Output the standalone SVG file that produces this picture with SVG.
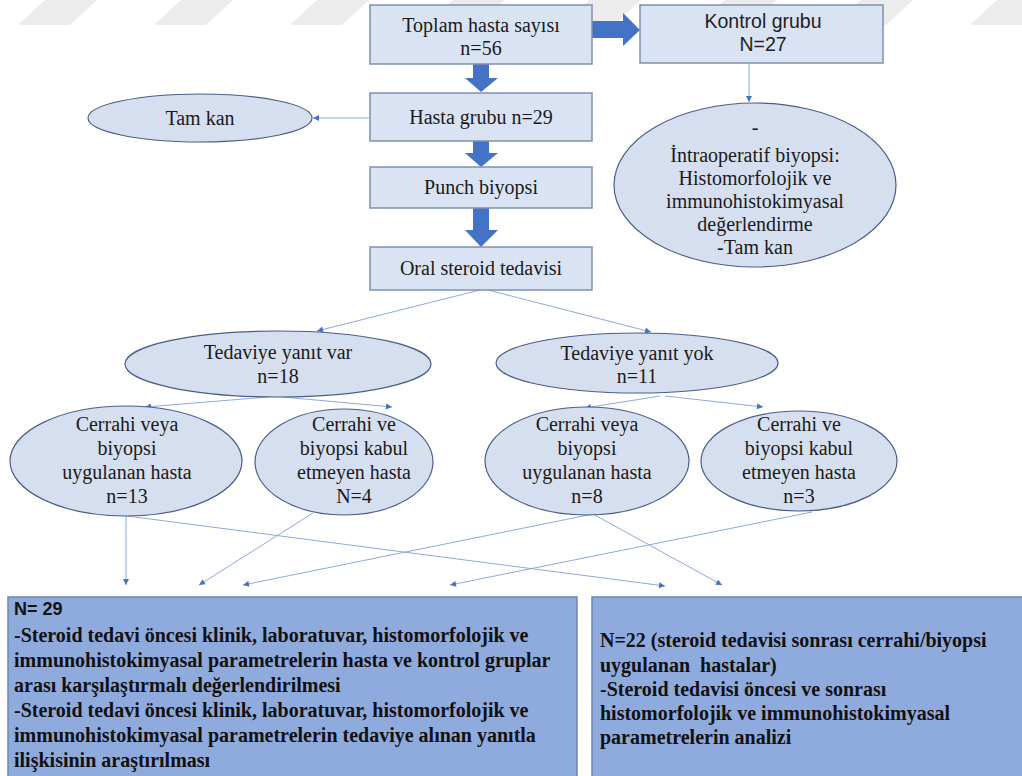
<svg xmlns="http://www.w3.org/2000/svg" width="1022" height="776" viewBox="0 0 1022 776">
<style>
.bg{fill:#ffffff}
.wm{fill:#ececec}
.box{fill:#dae3f3;stroke:#7f90ad;stroke-width:1.5}
.ell{fill:#d6dff0;stroke:#4a5f86;stroke-width:1.2}
.big{fill:#8faadc;stroke:#6f86b0;stroke-width:1.5}
.blk{fill:#4472c4}
.t{font-family:"Liberation Serif","Times New Roman",serif;font-size:20px;fill:#1a1a1a;text-anchor:middle}
.s{font-family:"Liberation Sans",Arial,sans-serif;font-size:19.5px;fill:#222222;text-anchor:middle}
.b{font-family:"Liberation Serif","Times New Roman",serif;font-size:20px;font-weight:bold;fill:#111111}
.bs{font-family:"Liberation Sans",Arial,sans-serif;font-size:18px;font-weight:bold;fill:#111111}
.c{stroke:#8eaadb;stroke-width:1;fill:none;marker-end:url(#ah)}
</style>
<defs>
<marker id="ah" viewBox="0 0 10 10" refX="10" refY="5" markerWidth="7" markerHeight="6" markerUnits="userSpaceOnUse" orient="auto">
<path d="M0,0 L10,5 L0,10 z" fill="#4472c4"/>
</marker>
</defs>
<rect class="bg" x="0" y="0" width="1022" height="776"/>
<g id="watermark">
<polygon class="wm" points="18,25 70,25 97,0 45,0"/>
<polygon class="wm" points="154,25 206,25 233,0 181,0"/>
<polygon class="wm" points="290,25 342,25 369,0 317,0"/>
<polygon class="wm" points="426,25 478,25 505,0 453,0"/>
<polygon class="wm" points="562,25 614,25 641,0 589,0"/>
<polygon class="wm" points="698,25 750,25 777,0 725,0"/>
<polygon class="wm" points="834,25 886,25 913,0 861,0"/>
<polygon class="wm" points="970,25 1022,25 1022,0 997,0"/>
</g>
<g id="connectors">
<polygon class="blk" points="592,21 623,21 623,13 640,30 623,46 623,38 592,38"/>
<polygon class="blk" points="473,64 489,64 489,78 498,78 481,92 465,78 473,78"/>
<polygon class="blk" points="473,141 489,141 489,153 498,153 481,167 465,153 473,153"/>
<polygon class="blk" points="473,208 489,208 489,230 498,230 481,247 465,230 473,230"/>
<line class="c" x1="369" y1="118" x2="313" y2="118"/>
<line class="c" x1="749" y1="64" x2="749" y2="102"/>
<line class="c" x1="480" y1="290" x2="317" y2="331"/>
<line class="c" x1="488" y1="290" x2="651" y2="332"/>
<line class="c" x1="268" y1="397" x2="145" y2="407"/>
<line class="c" x1="283" y1="397" x2="392" y2="407"/>
<line class="c" x1="660" y1="396" x2="585" y2="408"/>
<line class="c" x1="665" y1="396" x2="763" y2="407"/>
<line class="c" x1="126" y1="516" x2="126" y2="585"/>
<line class="c" x1="127" y1="516" x2="665" y2="586"/>
<line class="c" x1="313" y1="513" x2="199" y2="585"/>
<line class="c" x1="593" y1="514" x2="243" y2="585"/>
<line class="c" x1="593" y1="514" x2="722" y2="585"/>
<line class="c" x1="812" y1="512" x2="450" y2="585"/>
</g>
<g id="toplam">
<rect class="box" x="370" y="5" width="222" height="59"/>
<text class="t" x="481" y="32">Toplam hasta sayısı</text>
<text class="t" x="481" y="55">n=56</text>
</g>
<g id="kontrol">
<rect class="box" x="640" y="5" width="243" height="58"/>
<text class="s" x="763" y="28">Kontrol grubu</text>
<text class="s" x="763" y="51">N=27</text>
</g>
<g id="hasta">
<rect class="box" x="370" y="93" width="222" height="48"/>
<text class="t" x="481" y="124">Hasta grubu n=29</text>
</g>
<g id="tamkan">
<ellipse class="ell" cx="200" cy="118" rx="112" ry="24"/>
<text class="t" x="200" y="125">Tam kan</text>
</g>
<g id="intraop">
<ellipse class="ell" cx="755" cy="185" rx="141" ry="82"/>
<text class="t" x="755" y="134">-</text>
<text class="t" x="755" y="162">İntraoperatif biyopsi:</text>
<text class="t" x="755" y="185">Histomorfolojik ve</text>
<text class="t" x="755" y="208">immunohistokimyasal</text>
<text class="t" x="755" y="231">değerlendirme</text>
<text class="t" x="755" y="254">-Tam kan</text>
</g>
<g id="punch">
<rect class="box" x="370" y="167" width="222" height="41"/>
<text class="t" x="481" y="194">Punch biyopsi</text>
</g>
<g id="oral">
<rect class="box" x="370" y="247" width="222" height="43"/>
<text class="t" x="481" y="275">Oral steroid tedavisi</text>
</g>
<g id="yanitvar">
<ellipse class="ell" cx="278" cy="364" rx="153" ry="33"/>
<text class="t" x="278" y="359">Tedaviye yanıt var</text>
<text class="t" x="278" y="383">n=18</text>
</g>
<g id="yanityok">
<ellipse class="ell" cx="637" cy="363" rx="141" ry="30"/>
<text class="t" x="637" y="360">Tedaviye yanıt yok</text>
<text class="t" x="637" y="383">n=11</text>
</g>
<g id="e1">
<ellipse class="ell" cx="126" cy="461" rx="116" ry="55"/>
<text class="t" x="127" y="431">Cerrahi veya</text>
<text class="t" x="127" y="455">biyopsi</text>
<text class="t" x="127" y="479">uygulanan hasta</text>
<text class="t" x="127" y="503">n=13</text>
</g>
<g id="e2">
<ellipse class="ell" cx="344" cy="462" rx="89" ry="53"/>
<text class="t" x="354" y="431">Cerrahi ve</text>
<text class="t" x="354" y="455">biyopsi kabul</text>
<text class="t" x="354" y="479">etmeyen hasta</text>
<text class="t" x="354" y="503">N=4</text>
</g>
<g id="e3">
<ellipse class="ell" cx="587" cy="461" rx="102" ry="54"/>
<text class="t" x="587" y="431">Cerrahi veya</text>
<text class="t" x="587" y="455">biyopsi</text>
<text class="t" x="587" y="479">uygulanan hasta</text>
<text class="t" x="587" y="503">n=8</text>
</g>
<g id="e4">
<ellipse class="ell" cx="799" cy="461" rx="98" ry="50"/>
<text class="t" x="799" y="431">Cerrahi ve</text>
<text class="t" x="799" y="455">biyopsi kabul</text>
<text class="t" x="799" y="479">etmeyen hasta</text>
<text class="t" x="799" y="503">n=3</text>
</g>
<g id="sonuc1">
<rect class="big" x="8" y="597" width="569" height="185"/>
<text class="bs" x="14" y="615">N= 29</text>
<text class="b" x="14" y="642">-Steroid tedavi öncesi klinik, laboratuvar, histomorfolojik ve</text>
<text class="b" x="14" y="667">immunohistokimyasal parametrelerin hasta ve kontrol gruplar</text>
<text class="b" x="14" y="692">arası karşılaştırmalı değerlendirilmesi</text>
<text class="b" x="14" y="717">-Steroid tedavi öncesi klinik, laboratuvar, histomorfolojik ve</text>
<text class="b" x="14" y="742">immunohistokimyasal parametrelerin tedaviye alınan yanıtla</text>
<text class="b" x="14" y="767">ilişkisinin araştırılması</text>
</g>
<g id="sonuc2">
<rect class="big" x="592" y="597" width="440" height="185"/>
<text class="b" x="600" y="647">N=22 (steroid tedavisi sonrası cerrahi/biyopsi</text>
<text class="b" x="600" y="672" xml:space="preserve">uygulanan  hastalar)</text>
<text class="b" x="600" y="696">-Steroid tedavisi öncesi ve sonrası</text>
<text class="b" x="600" y="720">histomorfolojik ve immunohistokimyasal</text>
<text class="b" x="600" y="744">parametrelerin analizi</text>
</g>
</svg>
